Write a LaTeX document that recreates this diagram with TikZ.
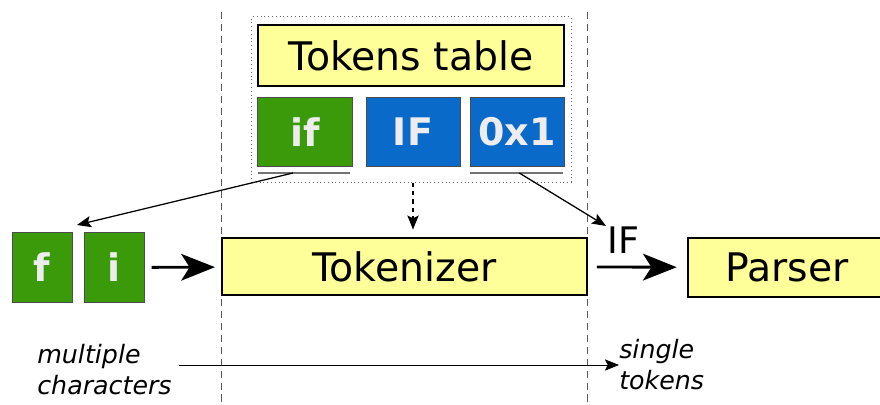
\documentclass[tikz,border=0pt]{standalone}
\usepackage{fontspec}
\setmainfont{DejaVu Sans}
\usetikzlibrary{arrows.meta, positioning}

\definecolor{stageyellow}{RGB}{255,255,153}
\definecolor{tokgreen}{RGB}{58,154,10}
\definecolor{tokblue}{RGB}{10,106,202}

\tikzset{
  stage/.style={draw, line width=2pt, fill=stageyellow, inner sep=0pt, font=\fontsize{28}{32}\selectfont},
  tok/.style={draw=black!70, line width=0.7pt, inner sep=0pt, text=white!93!black,
    font=\fontsize{27}{32}\selectfont\bfseries, minimum width=2.35cm, minimum height=1.7cm},
  chr/.style={tok, minimum width=1.5cm, minimum height=1.725cm},
  bigarrow/.style={line width=2pt, -{Stealth[length=24pt, width=19pt, inset=6pt]}},
  smallarrow/.style={line width=0.9pt, -{Stealth[length=10pt, width=8pt, inset=2pt]}},
  border/.style={draw=black!65, line width=0.7pt, dash pattern=on 5pt off 3.5pt},
  caption/.style={align=left, anchor=west, inner sep=0pt, font=\fontsize{18}{22}\selectfont\itshape}
}

\begin{document}
\begin{tikzpicture}[x=0.025cm, y=-0.025cm]
\useasboundingbox (0,0) rectangle (880,405);

% Stage borders
\draw[border] (221,12) -- (221,405);
\draw[border] (587,12) -- (587,405);

% Tokens table
\node[draw=black!60, dotted, line width=0.7pt, minimum width=7.975cm, minimum height=4.125cm] (table) at (411.5,99.5) {};
\node[stage, minimum width=7.65cm, minimum height=1.525cm] (header) at (411,55.5) {Tokens table};
\node[tok, fill=tokgreen] (ifkey) at (305,132) {if};
\node[tok, fill=tokblue] (ifval) at (413,132) {IF};
\node[tok, fill=tokblue] (ifcode) at (517,132) {0x1};
\draw[draw=black!55, line width=1.4pt] (258,173) -- (350,173) coordinate[pos=0.38] (ifline);
\draw[draw=black!55, line width=1.4pt] (470,173) -- (563,173) coordinate[pos=0.53] (codeline);

% Pipeline
\node[chr, fill=tokgreen] (f) at (42,267.5) {f};
\node[chr, fill=tokgreen] (i) at (114,267.5) {i};
\node[stage, minimum width=9.125cm, minimum height=1.425cm] (tokenizer) at (404.5,266.5) {Tokenizer};
\node[stage, minimum width=4.95cm, minimum height=1.475cm] (parser) at (787,267.5) {Parser};
\coordinate (fi) at (77,225);
\coordinate (tag) at (606,226);

% Captions
\node[caption] (multi) at (37,370) {multiple\\characters};
\node[caption] (single) at (619,365) {single\\tokens};

% Arrows
\draw[smallarrow] (ifline) -- (fi);
\draw[smallarrow] (codeline) -- (tag);
\draw[smallarrow, dashed] (table.south -| ifval) -- ([yshift=5pt]tokenizer.north -| ifval);
\draw[bigarrow, shorten <=5pt, shorten >=4pt] (i) -- (tokenizer);
\draw[bigarrow, shorten <=6pt, shorten >=7pt] (tokenizer) -- (parser)
  node[pos=0.36, above=5pt, font=\fontsize{26}{30}\selectfont] {IF};
\draw[line width=0.6pt, -{Stealth[length=10pt, width=8pt, inset=2pt]}, shorten <=5pt] (multi.east |- 0,365) -- (single.west |- 0,365);
\end{tikzpicture}
\end{document}
